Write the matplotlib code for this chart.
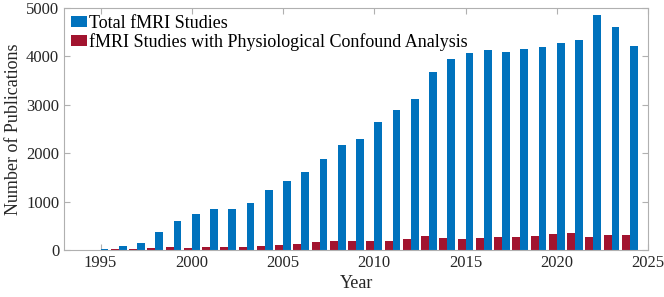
import numpy as np
import matplotlib
matplotlib.use("Agg")
import matplotlib.pyplot as plt

# Dades llegides de la figura
anys = np.arange(1994, 2025)
total_fmri = [5, 20, 90, 140, 380, 600, 740, 840, 840, 965, 1235, 1435, 1605, 1880, 2165,
              2300, 2650, 2890, 3115, 3680, 3940, 4070, 4125, 4095, 4145, 4185, 4275, 4345,
              4860, 4615, 4220]
fmri_fisio = [5, 10, 15, 30, 45, 60, 40, 70, 70, 65, 90, 105, 130, 170, 180,
              185, 185, 185, 220, 285, 255, 235, 255, 260, 270, 285, 325, 350,
              270, 305, 310]

plt.rcParams['font.family'] = ['Liberation Serif', 'DejaVu Serif']

fig = plt.figure(figsize=(6.64, 2.97), dpi=100)
ax = fig.add_axes([0.0964, 0.158, 0.8796, 0.815])

w = 0.43
blau = '#0072BD'
vermell = '#A2142F'
ax.bar(anys + w / 2, total_fmri, width=w, color=blau, label='Total fMRI Studies', zorder=2)
ax.bar(anys - w / 2, fmri_fisio, width=w, color=vermell,
       label='fMRI Studies with Physiological Confound Analysis', zorder=2)

ax.set_xlim(1993, 2025)
ax.set_ylim(0, 5000)
ax.set_xticks(np.arange(1995, 2026, 5))
ax.set_yticks(np.arange(0, 5001, 1000))
ax.tick_params(direction='in', top=True, right=True, length=4, labelsize=12,
               color='#b0b0b0', labelcolor='#262626', width=0.8)
for s in ax.spines.values():
    s.set_color('#b0b0b0')
    s.set_linewidth(0.8)

ax.set_xlabel('Year', fontsize=13, color='#262626', labelpad=3)
ax.set_ylabel('Number of Publications', fontsize=13, color='#262626', labelpad=3)

ax.legend(loc='upper left', frameon=False, fontsize=13, handlelength=0.9,
          handleheight=0.55, handletextpad=0.1, labelspacing=0.05,
          borderaxespad=0.3, borderpad=0.1)

fig.savefig('out.png', dpi=100)
